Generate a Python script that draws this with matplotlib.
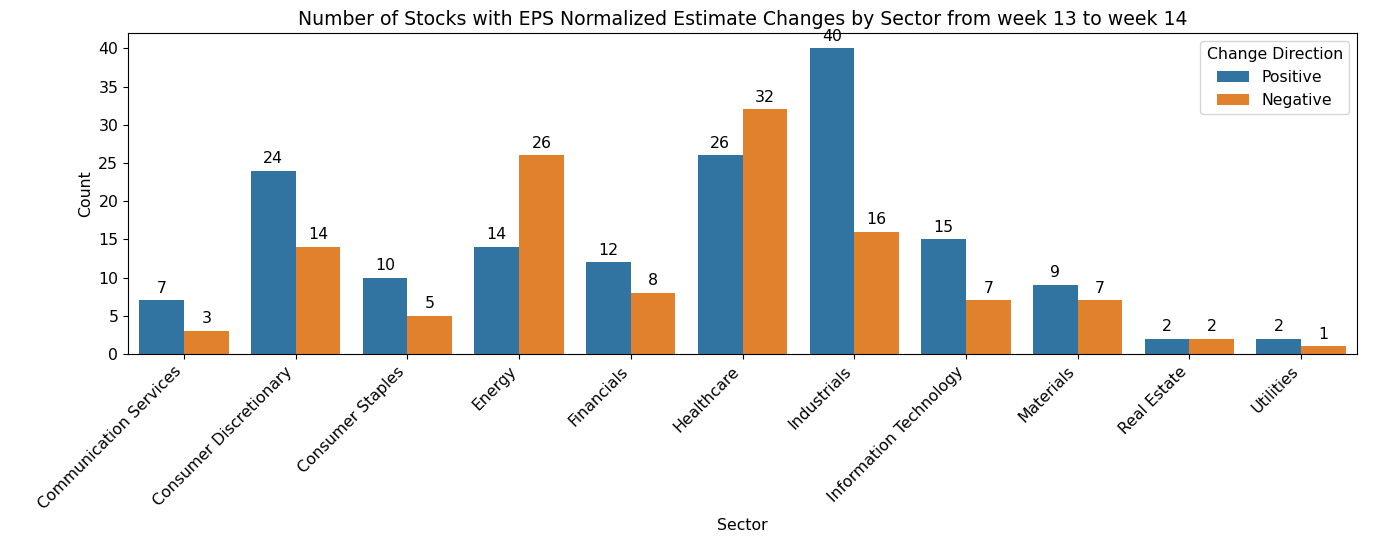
import matplotlib
matplotlib.use('Agg')
import matplotlib.pyplot as plt
import seaborn as sns
import pandas as pd

# values
sectors = ['Communication Services', 'Consumer Discretionary', 'Consumer Staples',
           'Energy', 'Financials', 'Healthcare', 'Industrials',
           'Information Technology', 'Materials', 'Real Estate', 'Utilities']
positive = [7, 24, 10, 14, 12, 26, 40, 15, 9, 2, 2]
negative = [3, 14, 5, 26, 8, 32, 16, 7, 7, 2, 1]

df = pd.DataFrame({
    'Sector': sectors * 2,
    'Count': positive + negative,
    'Change Direction': ['Positive'] * len(sectors) + ['Negative'] * len(sectors),
})

# reference looks like a default render scaled up ~1.13x
scale = 1.13
plt.rcParams['font.size'] = 10 * scale

fig, ax = plt.subplots(figsize=(13.74, 5.42), dpi=100)
sns.barplot(data=df, x='Sector', y='Count', hue='Change Direction', ax=ax)

for container in ax.containers:
    ax.bar_label(container, padding=3 * scale, fontsize=10 * scale)

ax.set_title('Number of Stocks with EPS Normalized Estimate Changes by Sector from week 13 to week 14',
             fontsize=12 * scale)
ax.set_xlabel('Sector')
ax.set_ylabel('Count')
plt.setp(ax.get_xticklabels(), rotation=45, ha='right')
ax.legend(title='Change Direction', loc='upper right')

fig.subplots_adjust(left=0.0932, right=0.9876, top=0.9391, bottom=0.3469)
plt.savefig('out.png')
